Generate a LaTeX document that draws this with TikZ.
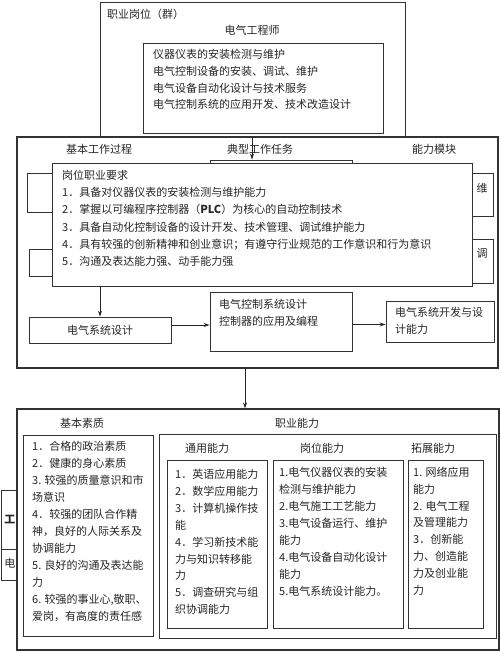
\documentclass[tikz,border=0pt]{standalone}
\usepackage{fontspec}
\setmainfont{Noto Sans CJK SC}
\usetikzlibrary{fit,arrows.meta,calc}

\begin{document}
\begin{tikzpicture}[x=1pt,y=-1pt,
	frame/.style={draw=black!80,line width=0.9pt,inner sep=0pt},
	shell/.style={frame,fill=white,line width=1.1pt},
	lbl/.style={inner sep=0pt,text=black!85,font=\fontsize{11}{17}\selectfont},
	para/.style={lbl,align=left,anchor=north west},
	arr/.style={draw=black!85,line width=0.9pt,-{Stealth[length=6pt,width=4pt]}}]
	\useasboundingbox (0,0) rectangle (500,652);

		% post group
		\node [frame, fit={(100,2) (405,138)}] (post) {};
		\node [para] (posttitle) at (107,9) {职业岗位（群）};
		\node [lbl] (engineer) at (252,30) {电气工程师};
		\node [frame, fit={(143,43) (383,133)}] (duty) {};
		\node [para, font=\fontsize{11}{16.8}\selectfont] (dutytext) at (153,49) {仪器仪表的安装检测与维护\\电气控制设备的安装、调试、维护\\电气设备自动化设计与技术服务\\电气控制系统的应用开发、技术改造设计};

		% work process
		\node [shell, fit={(17,137) (498,368)}] (proc) {};
		\node [lbl] (hproc) at (99,149) {基本工作过程};
		\node [lbl] (htask) at (260,149) {典型工作任务};
		\node [lbl] (hmod) at (434,149) {能力模块};

		\node [frame, fit={(27,173) (80,212)}] (stepA) {};
		\node [frame, fit={(29,249) (80,276)}] (stepB) {};
		\node [frame, fit={(210,160) (352,200)}] (taskA) {};
		\node [frame, fit={(430,173) (493,216)}] (modA) {};
		\node [frame, fit={(430,239) (493,283)}] (modB) {};
		\node [lbl] (modAtext) at (482,188) {维};
		\node [lbl] (modBtext) at (482,253) {调};

		\coordinate (feed) at (252,138);
		\draw [arr] (feed) -- (feed |- taskA.north);

		\node [frame, fill=white, fit={(52,163) (472,286)}] (req) {};
		\node [para, font=\fontsize{11}{17.2}\selectfont] (reqtext) at (62,170) {岗位职业要求\\1．具备对仪器仪表的安装检测与维护能力\\2．掌握以可编程序控制器（\textbf{PLC}）为核心的自动控制技术\\3．具备自动化控制设备的设计开发、技术管理、调试维护能力\\4．具有较强的创新精神和创业意识；有遵守行业规范的工作意识和行为意识\\5．沟通及表达能力强、动手能力强};

		\node [frame, fit={(29,317) (171,343)}] (design) {};
		\node [lbl] (designtext) at (design) {电气系统设计};
		\node [frame, fit={(210,292) (352,351)}] (ctrl) {};
		\node [para] (ctrltext) at (219,299) {电气控制系统设计\\控制器的应用及编程};
		\node [frame, fit={(386,301) (494,342)}] (devel) {};
		\node [para] (develtext) at (395,307) {电气系统开发与设\\计能力};

		\draw [arr] (req.south -| design.north) -- (design.north);
		\draw [arr] ([yshift=5pt]design.east) -- ([yshift=5pt]design.east -| ctrl.west);
		\draw [arr] ([yshift=-3pt]ctrl.east) -- ([yshift=-3pt]ctrl.east -| devel.west);

		% qualities and abilities
		\node [frame, fit={(1,490) (40,580)}] (side) {};
		\draw [frame] (1,549) -- (40,549);
		\node [lbl, font=\fontsize{11}{17}\selectfont\bfseries] (sideA) at (10,520) {工};
		\node [lbl] (sideB) at (10,563) {电};

		\node [shell, fit={(17,409) (499,650)}] (base) {};
		\coordinate (drop) at (245,368);
		\draw [arr] (drop) -- (drop |- base.north);

		\node [lbl] (hqual) at (82,423) {基本素质};
		\node [lbl] (hskill) at (297,423) {职业能力};

		\node [frame, fit={(23,435) (153,636)}] (qual) {};
		\node [para] (qualtext) at (32,441) {1．合格的政治素质\\2．健康的身心素质\\3. 较强的质量意识和市\\场意识\\4．较强的团队合作精\\神，良好的人际关系及\\协调能力\\5. 良好的沟通及表达能\\力\\6. 较强的事业心,敬职、\\爱岗，有高度的责任感};

		\node [frame, fit={(159,434) (496,638)}] (skill) {};
		\node [lbl] (hgen) at (207,448) {通用能力};
		\node [lbl] (hjob) at (322,448) {岗位能力};
		\node [lbl] (hext) at (433,448) {拓展能力};

		\node [frame, fit={(167,460) (267,628)}] (gen) {};
		\node [para, font=\fontsize{11}{16.9}\selectfont] (gentext) at (175,469) {1．英语应用能力\\2．数学应用能力\\3．计算机操作技\\能\\4．学习新技术能\\力与知识转移能\\力\\5．调查研究与组\\织协调能力};

		\node [frame, fit={(273,460) (403,628)}] (job) {};
		\node [para, font=\fontsize{11}{17}\selectfont] (jobtext) at (279,467) {1.电气仪器仪表的安装\\检测与维护能力\\2.电气施工工艺能力\\3.电气设备运行、维护\\能力\\4.电气设备自动化设计\\能力\\5.电气系统设计能力。};

		\node [frame, fit={(408,460) (483,628)}] (ext) {};
		\node [para, font=\fontsize{11}{16.8}\selectfont] (exttext) at (413,467) {1. 网络应用\\能力\\2. 电气工程\\及管理能力\\3．创新能\\力、创造能\\力及创业能\\力};

\end{tikzpicture}
\end{document}
